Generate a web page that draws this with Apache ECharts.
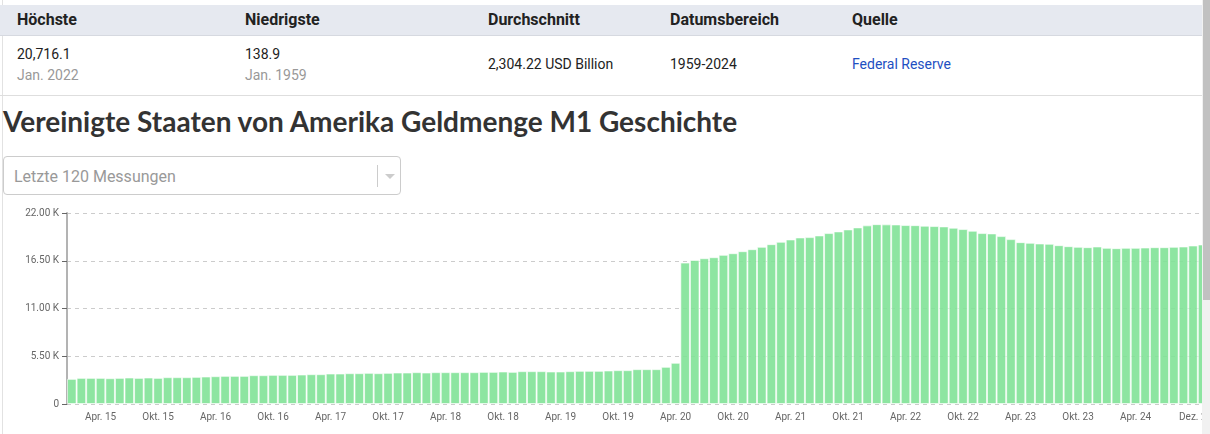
<!DOCTYPE html>
<html>
<head>
<meta charset="utf-8">
<script src="https://cdn.jsdelivr.net/npm/echarts@6/dist/echarts.min.js"></script>
<style>
  html, body { margin: 0; padding: 0; width: 1210px; height: 434px; overflow: hidden; background: #fff; }
  body { position: relative; font-family: Roboto, "Noto Sans", sans-serif; color: #222; }
  .left-line { position: absolute; left: 2px; top: 0; width: 1px; height: 434px; background: #e2e2e2; }
  .stats-head { position: absolute; left: 0; top: 5px; width: 1202px; height: 30px; background: #e6e9f0; border-bottom: 1px solid #d6d9e0; }
  .stats-row { position: absolute; left: 0; top: 36px; width: 1202px; height: 59px; border-bottom: 1px solid #dedede; }
  .cell { position: absolute; font-size: 14px; white-space: nowrap; }
  .head { font-weight: 700; font-size: 16px; line-height: 16px; color: #222; }
  .sub { color: #999; }
  .link { color: #1e4fc2; }
  .title { position: absolute; left: 3px; top: 104px; font-family: Lato, "Open Sans", sans-serif; font-weight: 700; font-size: 28px; color: #333; white-space: nowrap; }
  .select { position: absolute; left: 3px; top: 156px; width: 398px; height: 39px; border: 1px solid #ccc; border-radius: 4px; box-sizing: border-box; }
  .select span { position: absolute; left: 10px; top: 10px; font-size: 16px; color: #999; }
  .select .sep { position: absolute; left: 373px; top: 8px; width: 1px; height: 22px; background: #ccc; }
  .select .arrow { position: absolute; left: 381px; top: 17px; width: 0; height: 0; border-left: 5px solid transparent; border-right: 5px solid transparent; border-top: 5px solid #ccc; }
  #chart { position: absolute; left: 0; top: 200px; width: 1230px; height: 234px; }
  .scroll-track { position: absolute; left: 1202px; top: 0; width: 8px; height: 434px; background: #f1f1f1; }
  .scroll-thumb { position: absolute; left: 1203px; top: 0; width: 7px; height: 300px; background: #c1c1c1; }
</style>
</head>
<body>
<div class="left-line"></div>
<div class="stats-head">
  <div class="cell head" style="left:17px;top:7px">Höchste</div>
  <div class="cell head" style="left:245px;top:7px">Niedrigste</div>
  <div class="cell head" style="left:488px;top:7px">Durchschnitt</div>
  <div class="cell head" style="left:670px;top:7px">Datumsbereich</div>
  <div class="cell head" style="left:852px;top:7px">Quelle</div>
</div>
<div class="stats-row">
  <div class="cell" style="left:17px;top:10px">20,716.1</div>
  <div class="cell sub" style="left:17px;top:31px">Jan. 2022</div>
  <div class="cell" style="left:245px;top:10px">138.9</div>
  <div class="cell sub" style="left:245px;top:31px">Jan. 1959</div>
  <div class="cell" style="left:488px;top:20px">2,304.22 USD Billion</div>
  <div class="cell" style="left:670px;top:20px">1959-2024</div>
  <div class="cell link" style="left:852px;top:20px">Federal Reserve</div>
</div>
<div class="title">Vereinigte Staaten von Amerika Geldmenge M1 Geschichte</div>
<div class="select"><span>Letzte 120 Messungen</span><div class="sep"></div><div class="arrow"></div></div>
<div id="chart"></div>
<div class="scroll-track"></div>
<div class="scroll-thumb"></div>

<script>
// Monatsnamen und Jahre für die Kategorien
const monthNames = ['Jan.', 'Feb.', 'März', 'Apr.', 'Mai', 'Juni', 'Juli', 'Aug.', 'Sept.', 'Okt.', 'Nov.', 'Dez.']
const years = ['15', '16', '17', '18', '19', '20', '21', '22', '23', '24']

// M1 Werte (USD Billion), Jan. 2015 bis Dez. 2024
const m1Values = [
  2895, 3010, 3010, 3010, 2970, 3010, 3050, 3010, 3050, 3010, 3090, 3090,
  3090, 3127, 3165, 3204, 3242, 3242, 3242, 3320, 3320, 3358, 3358, 3358,
  3397, 3435, 3435, 3512, 3512, 3550, 3550, 3590, 3550, 3590, 3628, 3628,
  3667, 3628, 3667, 3667, 3667, 3667, 3667, 3705, 3705, 3744, 3705, 3782,
  3782, 3782, 3744, 3744, 3782, 3821, 3821, 3821, 3860, 3898, 3898, 4014,
  4014, 4014, 4285, 4748, 16290, 16598, 16791, 16907, 17177, 17370, 17602, 17833,
  18100, 18412, 18682, 18952, 19184, 19223, 19416, 19686, 19879, 20111, 20343, 20575,
  20716, 20690, 20680, 20612, 20600, 20535, 20496, 20458, 20304, 20150, 19957, 19686,
  19648, 19339, 18991, 18644, 18567, 18490, 18451, 18296, 18180, 18103, 18065, 18142,
  17987, 17949, 17987, 17987, 18026, 18065, 18065, 18103, 18142, 18258, 18374, 18480
]

const categories = []
years.forEach(y => monthNames.forEach(m => categories.push(m + ' ' + y)))

const chart = echarts.init(document.getElementById('chart'))

const option = {
  animation: false,
  grid: {
    left: 67,
    right: 13,
    top: 13,
    bottom: 30
  },
  xAxis: {
    type: 'category',
    data: categories,
    axisLine: { show: false },
    axisTick: { show: false },
    axisLabel: {
      interval: (index) => index === 119 || (index % 6 === 3 && index < 117),
      color: '#666',
      fontSize: 10,
      fontFamily: 'Roboto',
      margin: 8,
      alignMaxLabel: 'right'
    }
  },
  yAxis: {
    type: 'value',
    min: 0,
    max: 22000,
    interval: 5500,
    axisLine: { show: true, lineStyle: { color: '#b3b3b3', width: 2 } },
    axisTick: { show: true, length: 5, lineStyle: { color: '#666' } },
    axisLabel: {
      color: '#666',
      fontSize: 10,
      fontFamily: 'Roboto',
      margin: 8,
      formatter: (v) => v === 0 ? '0' : (v / 1000).toFixed(2) + ' K'
    },
    splitLine: {
      show: true,
      lineStyle: { color: '#ccc', type: [4, 4] }
    }
  },
  series: [
    {
      type: 'bar',
      data: m1Values,
      barCategoryGap: '0%',
      itemStyle: {
        color: 'rgba(129, 226, 151, 0.9)',
        borderColor: 'rgba(255, 255, 255, 0.6)',
        borderWidth: 1
      }
    }
  ]
}
chart.setOption(option)
</script>
</body>
</html>
